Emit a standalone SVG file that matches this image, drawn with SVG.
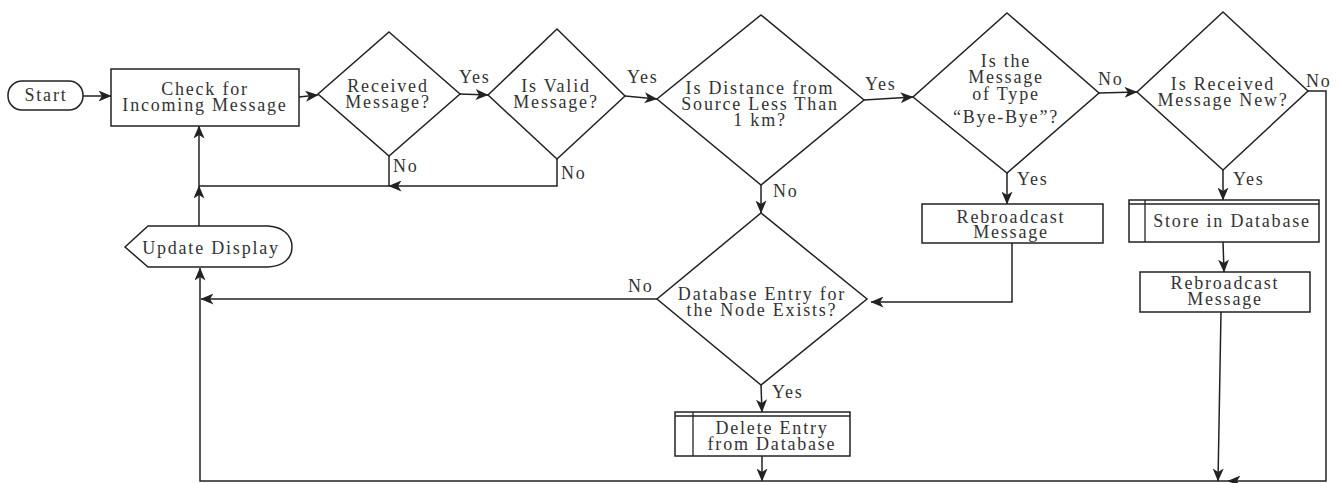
<svg xmlns="http://www.w3.org/2000/svg" width="1340" height="483" viewBox="0 0 1340 483">
<style>
  .shape { fill: #ffffff; stroke: #222222; stroke-width: 1.5; }
  .inner { fill: none; stroke: #222222; stroke-width: 1.3; }
  .conn { fill: none; stroke: #222222; stroke-width: 1.5; }
  text { font-family: "Liberation Serif", "Times New Roman", serif; font-size: 18px; fill: #333333; letter-spacing: 1.8px; }
  .c { text-anchor: middle; }
</style>
<defs>
  <marker id="arr" markerUnits="userSpaceOnUse" markerWidth="13" markerHeight="11" viewBox="0 0 13 11" refX="12.5" refY="5.5" orient="auto">
    <path d="M0,0 L13,5.5 L0,11 L3.5,5.5 Z" fill="#222222"/>
  </marker>
</defs>
<rect width="1340" height="483" fill="#ffffff"/>

<g id="connectors">
  <path class="conn" d="M83,96 L111,96" marker-end="url(#arr)"/>
  <path class="conn" d="M299,97 L318,95" marker-end="url(#arr)"/>
  <path class="conn" d="M460,94 L488,95" marker-end="url(#arr)"/>
  <path class="conn" d="M625,96 L657,99" marker-end="url(#arr)"/>
  <path class="conn" d="M864,100 L913,97" marker-end="url(#arr)"/>
  <path class="conn" d="M1099,93 L1137,92" marker-end="url(#arr)"/>
  <path class="conn" d="M1308,91 L1326,91 L1326,481 L1228,481" marker-end="url(#arr)"/>
  <path class="conn" d="M1223,170 L1223,200" marker-end="url(#arr)"/>
  <path class="conn" d="M1223,242 L1224,272" marker-end="url(#arr)"/>
  <path class="conn" d="M1221,312 L1218,481" marker-end="url(#arr)"/>
  <path class="conn" d="M1007,173 L1007,204" marker-end="url(#arr)"/>
  <path class="conn" d="M1012,243 L1012,302 L871,302" marker-end="url(#arr)"/>
  <path class="conn" d="M761,185 L761,213" marker-end="url(#arr)"/>
  <path class="conn" d="M657,299 L201,299" marker-end="url(#arr)"/>
  <path class="conn" d="M761,385 L762,412" marker-end="url(#arr)"/>
  <path class="conn" d="M762,456 L762,481" marker-end="url(#arr)"/>
  <path class="conn" d="M1228,481 L200,481 L200,268" marker-end="url(#arr)"/>
  <path class="conn" d="M199,226 L199,186" marker-end="url(#arr)"/>
  <path class="conn" d="M199,186 L199,126" marker-end="url(#arr)"/>
  <path class="conn" d="M389,156 L389,186 L199,186"/>
  <path class="conn" d="M557,159 L557,186 L389,186" marker-end="url(#arr)"/>
</g>

<g id="labels">
  <text x="459" y="83">Yes</text>
  <text x="627" y="83">Yes</text>
  <text x="865" y="90">Yes</text>
  <text x="1098" y="85">No</text>
  <text x="1306" y="87">No</text>
  <text x="393" y="172">No</text>
  <text x="561" y="179">No</text>
  <text x="773" y="197">No</text>
  <text x="1017" y="185">Yes</text>
  <text x="1233" y="185">Yes</text>
  <text x="628" y="292">No</text>
  <text x="772" y="398">Yes</text>
</g>

<g id="start">
  <rect class="shape" x="8" y="81" width="75" height="29" rx="14" ry="14"/>
  <text class="c" x="46" y="101">Start</text>
</g>

<g id="check">
  <rect class="shape" x="111" y="69" width="188" height="57"/>
  <text class="c" x="205" y="94.5">Check for</text>
  <text class="c" x="205" y="111">Incoming Message</text>
</g>

<g id="received">
  <polygon class="shape" points="389,32 460,94 389,156 318,94"/>
  <text class="c" x="388" y="91.5">Received</text>
  <text class="c" x="388" y="107.5">Message?</text>
</g>

<g id="valid">
  <polygon class="shape" points="557,29 625,96 557,159 488,95"/>
  <text class="c" x="556" y="91.5">Is Valid</text>
  <text class="c" x="556" y="108">Message?</text>
</g>

<g id="distance">
  <polygon class="shape" points="761,15 864,100 761,185 657,99"/>
  <text class="c" x="760" y="94">Is Distance from</text>
  <text class="c" x="760" y="110">Source Less Than</text>
  <text class="c" x="760" y="126">1 km?</text>
</g>

<g id="byebye">
  <polygon class="shape" points="1007,13 1099,93 1007,173 913,97"/>
  <text class="c" x="1006" y="66.5">Is the</text>
  <text class="c" x="1006" y="83">Message</text>
  <text class="c" x="1006" y="99.5">of Type</text>
  <text class="c" x="1006" y="123">“Bye-Bye”?</text>
</g>

<g id="isnew">
  <polygon class="shape" points="1223,12 1308,91 1223,170 1137,92"/>
  <text class="c" x="1223" y="89.5">Is Received</text>
  <text class="c" x="1223" y="105.5">Message New?</text>
</g>

<g id="rebroadcast1">
  <rect class="shape" x="922" y="204" width="181" height="39"/>
  <text class="c" x="1011" y="222.5">Rebroadcast</text>
  <text class="c" x="1011" y="238">Message</text>
</g>

<g id="store">
  <rect class="shape" x="1129" y="200" width="190" height="42"/>
  <line class="inner" x1="1129" y1="204" x2="1319" y2="204"/>
  <line class="inner" x1="1145" y1="200" x2="1145" y2="242"/>
  <text class="c" x="1232" y="227">Store in Database</text>
</g>

<g id="rebroadcast2">
  <rect class="shape" x="1140" y="272" width="170" height="40"/>
  <text class="c" x="1225" y="288.5">Rebroadcast</text>
  <text class="c" x="1225" y="304.5">Message</text>
</g>

<g id="database">
  <polygon class="shape" points="761,213 867,299 761,385 657,299"/>
  <text class="c" x="762" y="299.5">Database Entry for</text>
  <text class="c" x="762" y="316">the Node Exists?</text>
</g>

<g id="delete">
  <rect class="shape" x="675" y="412" width="175" height="44"/>
  <line class="inner" x1="675" y1="416" x2="850" y2="416"/>
  <line class="inner" x1="693" y1="412" x2="693" y2="456"/>
  <text class="c" x="772" y="433.5">Delete Entry</text>
  <text class="c" x="772" y="449.5">from Database</text>
</g>

<g id="update">
  <path class="shape" d="M125,247 L148,226 L268,226 C284,227 292,236 292,247 C292,258 284,266 268,267 L148,267 Z"/>
  <text class="c" x="211" y="253.5">Update Display</text>
</g>
</svg>
